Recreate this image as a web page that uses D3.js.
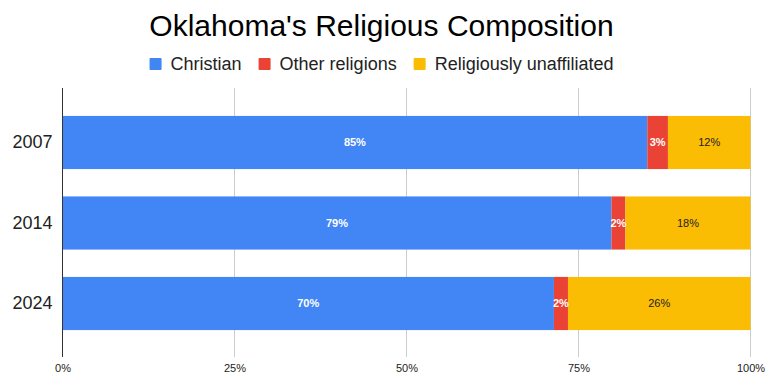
<!DOCTYPE html>
<html>
<head>
<meta charset="utf-8">
<script src="https://cdn.jsdelivr.net/npm/d3@7"></script>
<style>
  html, body { margin: 0; padding: 0; background: #fff; }
  svg { display: block; font-family: Arial, "Liberation Sans", sans-serif; }
</style>
</head>
<body>
<svg id="chart" width="770" height="391"></svg>
<script>
const years = ["2007", "2014", "2024"];
const seriesNames = ["Christian", "Other religions", "Religiously unaffiliated"];
const christian = [85, 79, 70];
const otherReligions = [3, 2, 2];
const unaffiliated = [12, 18, 26];
const xTicks = [0, 0.25, 0.5, 0.75, 1];
const colors = ["#4285F4", "#EA4335", "#FBBC04"];
const labelColors = ["#ffffff", "#ffffff", "#222222"];
const labelWeights = ["bold", "bold", "normal"];

const rows = years.map((y, i) => ({
  year: y,
  "Christian": christian[i],
  "Other religions": otherReligions[i],
  "Religiously unaffiliated": unaffiliated[i]
}));

const svg = d3.select("#chart");

const x = d3.scaleLinear().domain([0, 1]).range([62.5, 750.5]);
const y = d3.scaleBand().domain(years).range([102.25, 343.75]).paddingInner(0.34).paddingOuter(0.17);
const gridTop = 87.5, gridBottom = 357;

const stack = d3.stack().keys(seriesNames).offset(d3.stackOffsetExpand);
const stacked = stack(rows);

// Title
svg.append("text")
  .attr("x", 381.5).attr("y", 36)
  .attr("text-anchor", "middle")
  .style("font-size", "30px")
  .style("fill", "#000")
  .text("Oklahoma's Religious Composition");

// Legend
const legend = svg.append("g");
let lx = 0;
seriesNames.forEach((name, i) => {
  const g = legend.append("g").attr("transform", `translate(${lx},0)`);
  g.append("rect").attr("x", 0).attr("y", 58).attr("width", 12).attr("height", 12)
    .attr("rx", 1).attr("fill", colors[i]);
  const t = g.append("text").attr("x", 21).attr("y", 70)
    .style("font-size", "18px").style("fill", "#222").text(name);
  const w = t.node().getComputedTextLength();
  lx += 21 + w + 17;
});
const legendWidth = lx - 17;
legend.attr("transform", `translate(${381.5 - legendWidth / 2},0)`);

// Gridlines
svg.append("g").selectAll("line")
  .data(xTicks.filter(d => d > 0))
  .join("line")
  .attr("x1", d => x(d)).attr("x2", d => x(d))
  .attr("y1", gridTop).attr("y2", gridBottom)
  .attr("stroke", "#cccccc").attr("stroke-width", 1)
  .attr("shape-rendering", "crispEdges");

// Bars
const layers = svg.append("g").selectAll("g")
  .data(stacked)
  .join("g")
  .attr("fill", (d, i) => colors[i]);

layers.selectAll("rect")
  .data(d => d)
  .join("rect")
  .attr("x", d => x(d[0]))
  .attr("y", d => y(d.data.year))
  .attr("width", d => x(d[1]) - x(d[0]))
  .attr("height", y.bandwidth());

// Bar labels
stacked.forEach((layer, i) => {
  svg.append("g").selectAll("text")
    .data(layer)
    .join("text")
    .attr("x", d => (x(d[0]) + x(d[1])) / 2)
    .attr("y", d => y(d.data.year) + y.bandwidth() / 2)
    .attr("dy", "0.35em")
    .attr("text-anchor", "middle")
    .style("font-size", "11px")
    .style("font-weight", labelWeights[i])
    .style("fill", labelColors[i])
    .text(d => d.data[layer.key] + "%");
});

// Zero axis line
svg.append("line")
  .attr("x1", x(0)).attr("x2", x(0))
  .attr("y1", gridTop).attr("y2", gridBottom)
  .attr("stroke", "#333333").attr("stroke-width", 1)
  .attr("shape-rendering", "crispEdges");

// X axis labels
const xAxis = svg.append("g")
  .attr("transform", `translate(0,${gridBottom})`)
  .call(d3.axisBottom(x).tickValues(xTicks).tickFormat(d3.format(".0%")).tickSize(0).tickPadding(7.5));
xAxis.select(".domain").remove();
xAxis.selectAll("text").attr("fill", "#222").style("font-size", "11px").style("font-family", "Arial, 'Liberation Sans', sans-serif");

// Y axis labels
const yAxis = svg.append("g")
  .attr("transform", `translate(${x(0)},0)`)
  .call(d3.axisLeft(y).tickSize(0).tickPadding(10));
yAxis.select(".domain").remove();
yAxis.selectAll("text").attr("fill", "#222").style("font-size", "18px").style("font-family", "Arial, 'Liberation Sans', sans-serif");
</script>
</body>
</html>
